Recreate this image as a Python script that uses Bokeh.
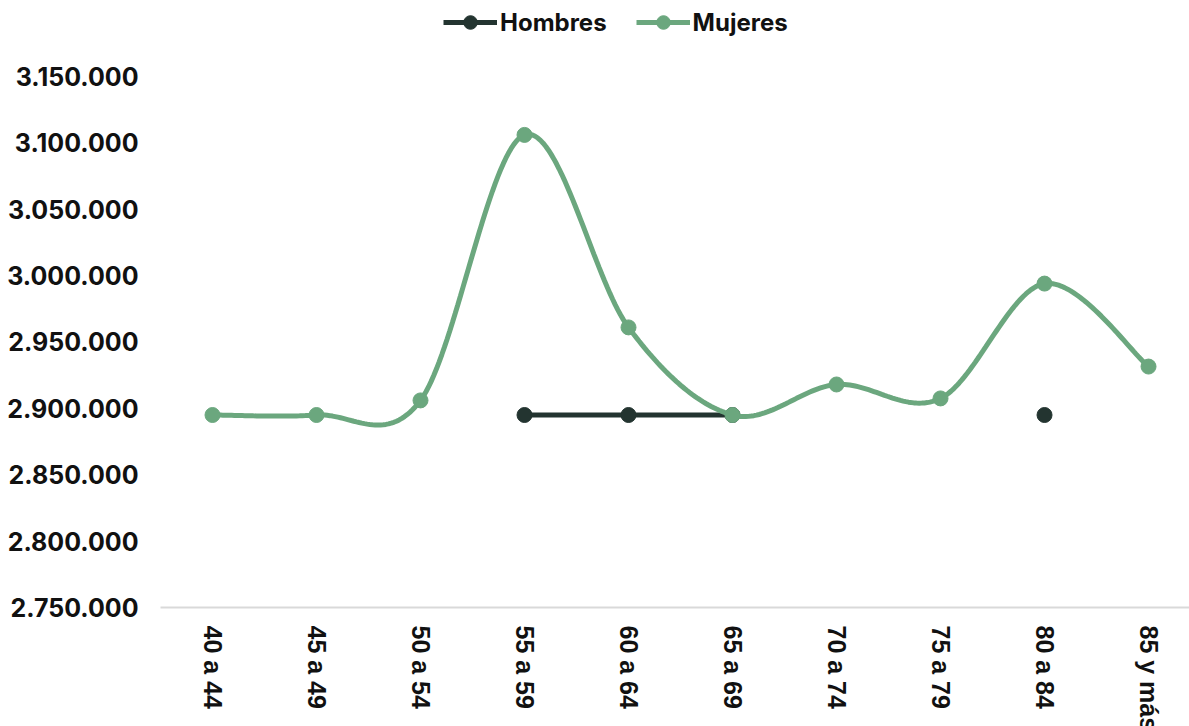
import math
import numpy as np
from bokeh.plotting import figure
from bokeh.models import Range1d, FixedTicker, Legend, LegendItem
from bokeh.embed import file_html
from bokeh.resources import INLINE

categories = ["40 a 44", "45 a 49", "50 a 54", "55 a 59", "60 a 64",
              "65 a 69", "70 a 74", "75 a 79", "80 a 84", "85 y más"]
mujeres = [2895000, 2895000, 2906000, 3106000, 2961000,
           2895000, 2918000, 2907500, 2994000, 2931500]
hombres = [None, None, None, 2895000, 2895000,
           2895000, None, None, 2895000, None]
y_ticks = [2750000, 2800000, 2850000, 2900000, 2950000,
           3000000, 3050000, 3100000, 3150000]
y_tick_labels = ["2.750.000", "2.800.000", "2.850.000", "2.900.000", "2.950.000",
                 "3.000.000", "3.050.000", "3.100.000", "3.150.000"]

C_H = "#233430"
C_M = "#6BA77E"


def smooth(vals, n=40):
    """Excel-like smoothed line (Catmull-Rom Bezier) in data space."""
    xs, ys = [], []
    N = len(vals)
    for i in range(N - 1):
        if vals[i] is None or vals[i + 1] is None:
            continue
        p1 = np.array([i, vals[i]], float)
        p2 = np.array([i + 1, vals[i + 1]], float)
        p0 = np.array([i - 1, vals[i - 1]], float) if i - 1 >= 0 and vals[i - 1] is not None else p1
        p3 = np.array([i + 2, vals[i + 2]], float) if i + 2 < N and vals[i + 2] is not None else p2
        c1 = p1 + (p2 - p0) / 6.0
        c2 = p2 - (p3 - p1) / 6.0
        t = np.linspace(0, 1, n)[:, None]
        pts = ((1 - t) ** 3) * p1 + 3 * ((1 - t) ** 2) * t * c1 + 3 * (1 - t) * t ** 2 * c2 + t ** 3 * p2
        if xs and xs[-1] == i:
            pts = pts[1:]
        elif xs:
            xs.append(float("nan"))
            ys.append(float("nan"))
        xs.extend(pts[:, 0].tolist())
        ys.extend(pts[:, 1].tolist())
    return xs, ys


p = figure(width=1189, height=745, output_backend="svg", toolbar_location=None,
           x_range=Range1d(-0.5, 9.394), y_range=Range1d(2750000, 3207250),
           min_border_left=160, min_border_right=0, min_border_top=0,
           min_border_bottom=138)
p.outline_line_color = None
p.xgrid.visible = False
p.ygrid.visible = False

hx, hy = smooth(hombres)
h_idx = [i for i, v in enumerate(hombres) if v is not None]
h_line = p.line(hx, hy, line_color=C_H, line_width=5)
h_pts = p.scatter(h_idx, [hombres[i] for i in h_idx], size=15, fill_color=C_H, line_color=C_H)

mx, my = smooth(mujeres)
m_line = p.line(mx, my, line_color=C_M, line_width=5)
m_pts = p.scatter(list(range(len(mujeres))), mujeres, size=15, fill_color=C_M, line_color=C_M)

legend = Legend(items=[LegendItem(label="Hombres", renderers=[h_line, h_pts]),
                       LegendItem(label="Mujeres", renderers=[m_line, m_pts])],
                orientation="horizontal", location=(283, 568),
                glyph_width=54, glyph_height=34, label_standoff=3, spacing=29,
                padding=0, margin=0, border_line_color=None, background_fill_alpha=0,
                label_text_font="Inter", label_text_font_style="bold",
                label_text_font_size="24px", label_text_color="#111111")
p.add_layout(legend, "center")

p.xaxis.ticker = FixedTicker(ticks=list(range(len(categories))))
p.xaxis.major_label_overrides = {i: c for i, c in enumerate(categories)}
p.xaxis.major_label_orientation = -math.pi / 2
p.xaxis.major_label_text_font = "Liberation Sans"
p.xaxis.major_label_text_font_style = "bold"
p.xaxis.major_label_text_font_size = "25px"
p.xaxis.major_label_text_color = "#111111"
p.xaxis.major_label_standoff = 12
p.xaxis.axis_line_color = "#d9d9d9"
p.xaxis.axis_line_width = 2
p.xaxis.major_tick_line_color = None
p.xaxis.minor_tick_line_color = None

p.yaxis.ticker = FixedTicker(ticks=y_ticks)
p.yaxis.major_label_overrides = dict(zip(y_ticks, y_tick_labels))
p.yaxis.major_label_text_font = "Inter"
p.yaxis.major_label_text_font_style = "bold"
p.yaxis.major_label_text_font_size = "25px"
p.yaxis.major_label_text_color = "#111111"
p.yaxis.major_label_standoff = 16
p.yaxis.axis_line_color = None
p.yaxis.major_tick_line_color = None
p.yaxis.minor_tick_line_color = None

open("out.html", "w").write(file_html(p, INLINE))
